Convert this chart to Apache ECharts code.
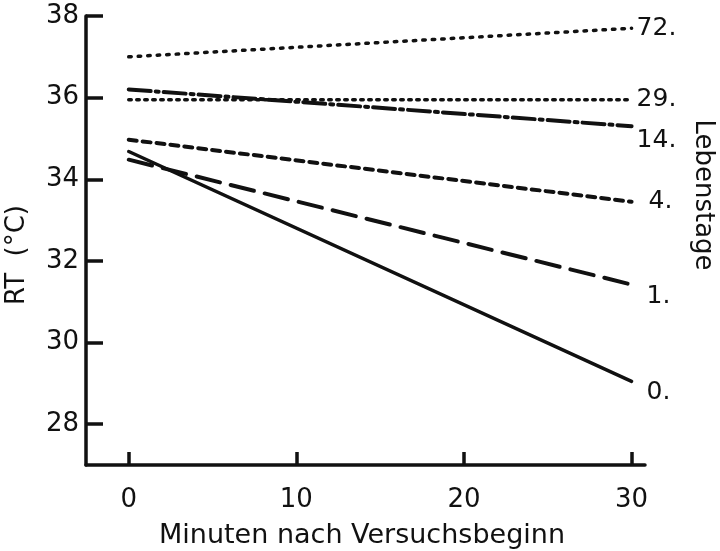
<!DOCTYPE html>
<html>
<head>
<meta charset="utf-8">
<script src="https://cdn.jsdelivr.net/npm/echarts@6/dist/echarts.min.js"></script>
<style>
  html, body { margin: 0; padding: 0; background: #fff; }
  #chart { width: 720px; height: 551px; }
</style>
</head>
<body>
<div id="chart"></div>
<script>
// Rectal temperature of piglets during cold exposure, by age in days
const minutes = [0, 30];
const day0  = [34.68, 29.05];
const day1  = [34.48, 31.42];
const day4  = [34.97, 33.45];
const day14 = [36.20, 35.30];
const day29 = [35.95, 35.95];
const day72 = [37.00, 37.70];

const ageLabels = ['0.', '1.', '4.', '14.', '29.', '72.'];
const xTicks = [0, 10, 20, 30];
const yTicks = [28, 30, 32, 34, 36, 38];

const INK = '#111';
const FONT = 'DejaVu Sans';

function pairs(vals) {
  return minutes.map((m, i) => [m, vals[i]]);
}

function lineSeries(vals, label, style, labelOffset) {
  return {
    type: 'line',
    data: pairs(vals),
    symbol: 'none',
    silent: true,
    lineStyle: Object.assign({ color: INK, cap: 'round' }, style),
    endLabel: {
      show: true,
      formatter: label,
      color: INK,
      fontFamily: FONT,
      fontSize: 25,
      distance: 3,
      offset: labelOffset
    }
  };
}

const chart = echarts.init(document.getElementById('chart'), null, { renderer: 'canvas' });

chart.setOption({
  backgroundColor: '#fff',
  animation: false,
  grid: { left: 86, right: 75, top: 16, bottom: 86, containLabel: false },
  xAxis: {
    type: 'value',
    min: -2.55,
    max: 30.8,
    splitLine: { show: false },
    axisLine: { show: true, onZero: false, lineStyle: { color: INK, width: 3.5 } },
    axisTick: {
      show: true, inside: true, length: 13,
      customValues: xTicks,
      lineStyle: { color: INK, width: 3.5 }
    },
    axisLabel: {
      customValues: xTicks,
      color: INK, fontFamily: FONT, fontSize: 26, margin: 22
    }
  },
  yAxis: {
    type: 'value',
    min: 27,
    max: 38,
    splitLine: { show: false },
    axisLine: { show: true, onZero: false, lineStyle: { color: INK, width: 3.5 } },
    axisTick: {
      show: true, inside: true, length: 17,
      customValues: yTicks,
      lineStyle: { color: INK, width: 3.5 }
    },
    axisLabel: {
      customValues: yTicks,
      color: INK, fontFamily: FONT, fontSize: 26, margin: 7
    }
  },
  series: [
    lineSeries(day0,  ageLabels[0], { width: 3.5, type: 'solid' }, [12, 11]),
    lineSeries(day1,  ageLabels[1], { width: 4, type: [24, 11] }, [12, 12]),
    lineSeries(day4,  ageLabels[2], { width: 4, type: [8, 6] }, [14, 0]),
    lineSeries(day14, ageLabels[3], { width: 4, type: [22, 5, 3, 5] }, [2, 14]),
    lineSeries(day29, ageLabels[4], { width: 3.5, type: [2.5, 5.5] }, [2, 0]),
    lineSeries(day72, ageLabels[5], { width: 3.5, type: [2.5, 7] }, [2, 0])
  ],
  graphic: [
    {
      type: 'text',
      x: 17, y: 255,
      rotation: Math.PI / 2,
      style: {
        text: 'RT  (°C)', fill: INK, font: '26px "DejaVu Sans"',
        align: 'center', verticalAlign: 'middle'
      }
    },
    {
      type: 'text',
      x: 703, y: 195,
      rotation: -Math.PI / 2,
      style: {
        text: 'Lebenstage', fill: INK, font: '26px "DejaVu Sans"',
        align: 'center', verticalAlign: 'middle'
      }
    },
    {
      type: 'text',
      x: 362, y: 536,
      style: {
        text: 'Minuten nach Versuchsbeginn', fill: INK, font: '27px "DejaVu Sans"',
        align: 'center', verticalAlign: 'middle'
      }
    }
  ]
});
</script>
</body>
</html>
